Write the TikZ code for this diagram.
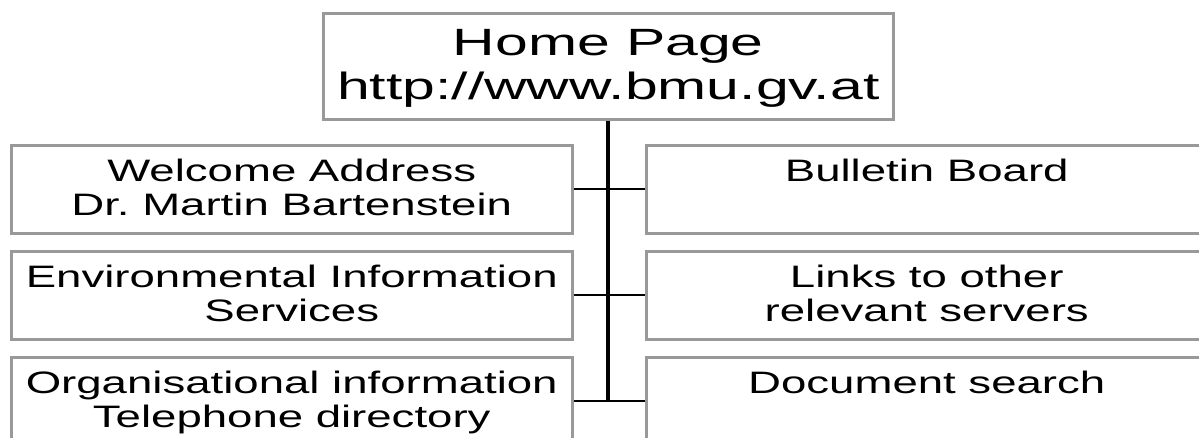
\documentclass[tikz,border=0pt]{standalone}
\usepackage{fontspec}
\setmainfont{Liberation Sans}
\newfontfamily\smallf{Liberation Sans}[FakeStretch=1.47]
\newfontfamily\bigf{Liberation Sans}[FakeStretch=1.55]
\newcommand\sstr{\rule[-7.5pt]{0pt}{34pt}}
\newcommand\bstr{\rule[-10.5pt]{0pt}{44pt}}
\definecolor{boxgray}{HTML}{999999}
\frenchspacing
\begin{document}
\begin{tikzpicture}[x=1pt,y=-1pt,
  boxstyle/.style={draw=boxgray, line width=2.5pt, minimum width=561pt,
    minimum height=88pt, inner sep=0pt, align=center, anchor=north west,
    font=\smallf\fontsize{31}{34}\selectfont},
  topstyle/.style={draw=boxgray, line width=2.5pt, minimum width=570pt,
    minimum height=106pt, inner sep=0pt, align=center, anchor=north west,
    font=\bigf\fontsize{38}{44}\selectfont},
  trunk/.style={line width=4pt},
  branch/.style={line width=2pt}]
\useasboundingbox (0,0) rectangle (1199,437);
\clip (0,0) rectangle (1199,437);
\node[topstyle] (home) at (322,12) {\bstr Home Page\\\bstr http://www.bmu.gv.at};
\node[boxstyle] (l1) at (10,144) {\sstr Welcome Address\\\sstr Dr.\ Martin Bartenstein};
\node[boxstyle] (l2) at (10,250) {\sstr Environmental Information\\\sstr Services};
\node[boxstyle] (l3) at (10,356) {\sstr Organisational information\\\sstr Telephone directory};
\node[boxstyle] (r1) at (645,144) {\sstr Bulletin Board\\\sstr};
\node[boxstyle] (r2) at (645,250) {\sstr Links to other\\\sstr relevant servers};
\node[boxstyle] (r3) at (645,356) {\sstr Document search\\\sstr};
\coordinate (end) at (home.south |- l3.east);
\draw[trunk] (home.south) -- (end);
\draw[branch] (l1.east) -- (r1.west);
\draw[branch] (l2.east) -- (r2.west);
\draw[branch] (l3.east) -- (r3.west);
\end{tikzpicture}
\end{document}
